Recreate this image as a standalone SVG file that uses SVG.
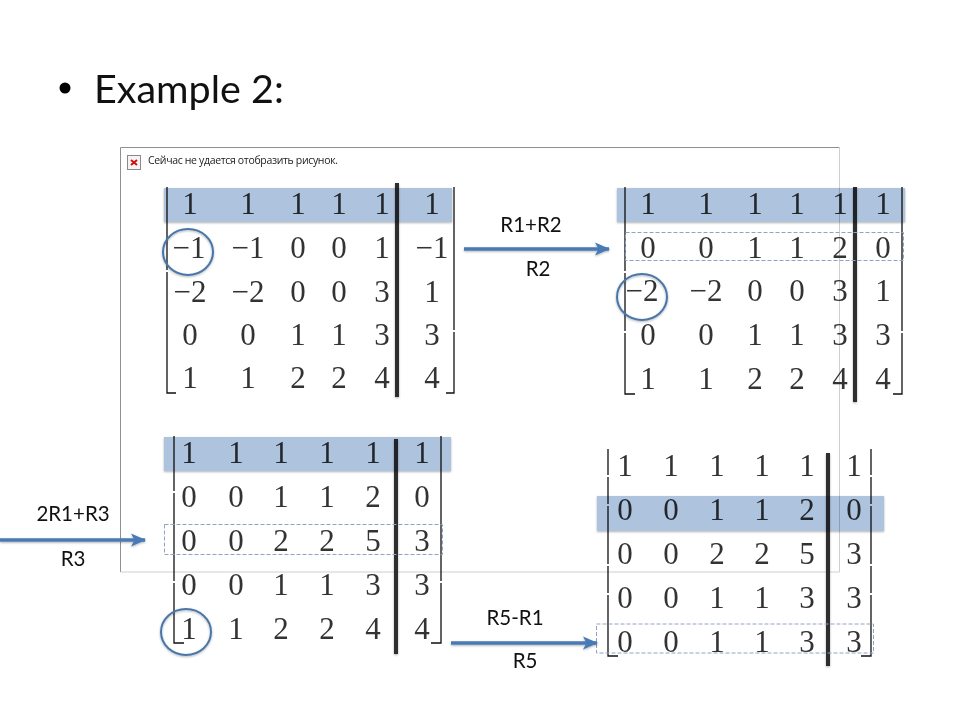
<svg xmlns="http://www.w3.org/2000/svg" width="960" height="720" viewBox="0 0 960 720">
<style>
.d{font-family:"Liberation Serif","Times New Roman",serif;font-size:31px;fill:#333;text-anchor:middle}
.l{font-family:"Lato","Open Sans",sans-serif;font-size:20.5px;fill:#111;text-anchor:middle}
.b{fill:none;stroke:#111;stroke-width:1.3}
.bar{stroke:#2f2f2f;stroke-width:4;filter:url(#s)}
.band{fill:#aec3de;mix-blend-mode:multiply;filter:url(#s)}
.dash{fill:none;stroke:#8fa3c4;stroke-width:1;stroke-dasharray:4 2}
.c{fill:none;stroke:#4a76a8;stroke-width:2;filter:url(#s)}
.a{fill:none;stroke:#4a7ab5;stroke-width:3.5;marker-end:url(#h);filter:url(#s)}
</style>
<defs>
<filter id="s" x="0" y="0" width="960" height="720" filterUnits="userSpaceOnUse"><feDropShadow dx="0" dy="1" stdDeviation="1" flood-color="#000" flood-opacity=".3"/></filter>
<marker id="h" markerUnits="userSpaceOnUse" markerWidth="16" markerHeight="16" refX="14" refY="8" orient="auto"><path d="M0,1.5 L15,8 L0,14.5 L3.5,8Z" fill="#4a7ab5"/></marker>
</defs>
<rect width="960" height="720" fill="#fff"/>
<g id="title">
<circle cx="65" cy="88" r="5.5" fill="#000"/>
<text x="94" y="103" font-family="Lato,'Open Sans',sans-serif" font-size="39.5" fill="#111">Example 2:</text>
</g>
<g id="placeholder">
<path d="M120.5,572 V147.5 H839.5" fill="none" stroke="#909090"/>
<path d="M839.5,147.5 V572 H120.5" fill="none" stroke="#cfcfcf"/>
<rect x="127.5" y="155.5" width="13" height="14" fill="#f4f4f4" stroke="#8a8a8a"/>
<path d="M131,160 L137,165 M137,160 L131,165" stroke="#d01010" stroke-width="2"/>
<text x="148" y="164" font-family="'Open Sans','DejaVu Sans',sans-serif" font-size="10.5" fill="#222" textLength="190">Сейчас не удается отобразить рисунок.</text>
</g>
<g id="matrix1">
<path class="b" d="M176,393 H167 V272 M167,270 V187 M446,393 H454 V332 M454,330 V187"/>
<g class="d">
<text x="190" y="214">1</text><text x="248" y="214">1</text><text x="298" y="214">1</text><text x="339" y="214">1</text><text x="382" y="214">1</text><text x="432" y="214">1</text>
<text x="189" y="258">−1</text><text x="248" y="258">−1</text><text x="298" y="258">0</text><text x="339" y="258">0</text><text x="382" y="258">1</text><text x="432" y="258">−1</text>
<text x="190" y="302">−2</text><text x="248" y="302">−2</text><text x="298" y="302">0</text><text x="339" y="302">0</text><text x="382" y="302">3</text><text x="432" y="302">1</text>
<text x="190" y="345">0</text><text x="248" y="345">0</text><text x="298" y="345">1</text><text x="339" y="345">1</text><text x="382" y="345">3</text><text x="432" y="345">3</text>
<text x="190" y="388">1</text><text x="248" y="388">1</text><text x="298" y="388">2</text><text x="339" y="388">2</text><text x="382" y="388">4</text><text x="432" y="388">4</text>
</g>
<line class="bar" x1="397" y1="183" x2="397" y2="397"/>
<rect class="band" x="164" y="188" width="288" height="34"/>
<ellipse class="c" cx="188" cy="252" rx="25" ry="23"/>
</g>
<g id="matrix2">
<path class="b" d="M635,394 H625 V333 M625,331 V273 M625,271 V187 M893,394 H902 V333 M902,331 V187"/>
<g class="d">
<text x="648" y="214">1</text><text x="706" y="214">1</text><text x="755" y="214">1</text><text x="797" y="214">1</text><text x="840" y="214">1</text><text x="883" y="214">1</text>
<text x="648" y="258">0</text><text x="706" y="258">0</text><text x="755" y="258">1</text><text x="797" y="258">1</text><text x="840" y="258">2</text><text x="883" y="258">0</text>
<text x="642" y="301">−2</text><text x="706" y="301">−2</text><text x="755" y="301">0</text><text x="797" y="301">0</text><text x="840" y="301">3</text><text x="883" y="301">1</text>
<text x="648" y="345">0</text><text x="706" y="345">0</text><text x="755" y="345">1</text><text x="797" y="345">1</text><text x="840" y="345">3</text><text x="883" y="345">3</text>
<text x="648" y="389">1</text><text x="706" y="389">1</text><text x="755" y="389">2</text><text x="797" y="389">2</text><text x="840" y="389">4</text><text x="883" y="389">4</text>
</g>
<line class="bar" x1="855" y1="187" x2="855" y2="402"/>
<rect class="band" x="617" y="188" width="288" height="34"/>
<rect class="dash" x="625.5" y="232.5" width="278" height="28"/>
<ellipse class="c" cx="642" cy="297" rx="25" ry="23"/>
</g>
<g id="matrix3">
<path class="b" d="M184,643 H174 V583 M174,581 V493 M174,491 V436 M431,643 H441 V583 M441,581 V436"/>
<g class="d">
<text x="189" y="463">1</text><text x="236" y="463">1</text><text x="281" y="463">1</text><text x="327" y="463">1</text><text x="373" y="463">1</text><text x="422" y="463">1</text>
<text x="189" y="507">0</text><text x="236" y="507">0</text><text x="281" y="507">1</text><text x="327" y="507">1</text><text x="373" y="507">2</text><text x="422" y="507">0</text>
<text x="189" y="551">0</text><text x="236" y="551">0</text><text x="281" y="551">2</text><text x="327" y="551">2</text><text x="373" y="551">5</text><text x="422" y="551">3</text>
<text x="189" y="595">0</text><text x="236" y="595">0</text><text x="281" y="595">1</text><text x="327" y="595">1</text><text x="373" y="595">3</text><text x="422" y="595">3</text>
<text x="189" y="639">1</text><text x="236" y="639">1</text><text x="281" y="639">2</text><text x="327" y="639">2</text><text x="373" y="639">4</text><text x="422" y="639">4</text>
</g>
<line class="bar" x1="396" y1="439" x2="396" y2="654"/>
<rect class="band" x="164" y="437" width="287" height="34"/>
<rect class="dash" x="164.5" y="524.5" width="278" height="30"/>
<ellipse class="c" cx="186" cy="632" rx="25" ry="23"/>
</g>
<g id="matrix4">
<path class="b" d="M618,656 H608 V595 M608,593 V566 M608,564 V506 M608,504 V477 M608,475 V449 M861,656 H871 V595 M871,593 V566 M871,564 V506 M871,504 V477 M871,475 V449"/>
<g class="d">
<text x="625" y="476">1</text><text x="671" y="476">1</text><text x="717" y="476">1</text><text x="762" y="476">1</text><text x="807" y="476">1</text><text x="854" y="476">1</text>
<text x="625" y="520">0</text><text x="671" y="520">0</text><text x="717" y="520">1</text><text x="762" y="520">1</text><text x="807" y="520">2</text><text x="854" y="520">0</text>
<text x="625" y="564">0</text><text x="671" y="564">0</text><text x="717" y="564">2</text><text x="762" y="564">2</text><text x="807" y="564">5</text><text x="854" y="564">3</text>
<text x="625" y="608">0</text><text x="671" y="608">0</text><text x="717" y="608">1</text><text x="762" y="608">1</text><text x="807" y="608">3</text><text x="854" y="608">3</text>
<text x="625" y="652">0</text><text x="671" y="652">0</text><text x="717" y="652">1</text><text x="762" y="652">1</text><text x="807" y="652">3</text><text x="854" y="652">3</text>
</g>
<line class="bar" x1="828" y1="453" x2="828" y2="666"/>
<rect class="band" x="597" y="496" width="287" height="35"/>
<rect class="dash" x="596.5" y="624" width="277" height="29"/>
</g>
<g id="connectors">
<path class="a" d="M464,249 H609"/>
<path class="a" d="M0,540 H145"/>
<path class="a" d="M451,643 H597"/>
</g>
<g id="labels">
<text class="l" x="531" y="232">R1+R2</text>
<text class="l" x="538" y="276">R2</text>
<text class="l" x="73" y="521">2R1+R3</text>
<text class="l" x="73" y="566">R3</text>
<text class="l" x="515" y="625">R5-R1</text>
<text class="l" x="525" y="668">R5</text>
</g>
</svg>
